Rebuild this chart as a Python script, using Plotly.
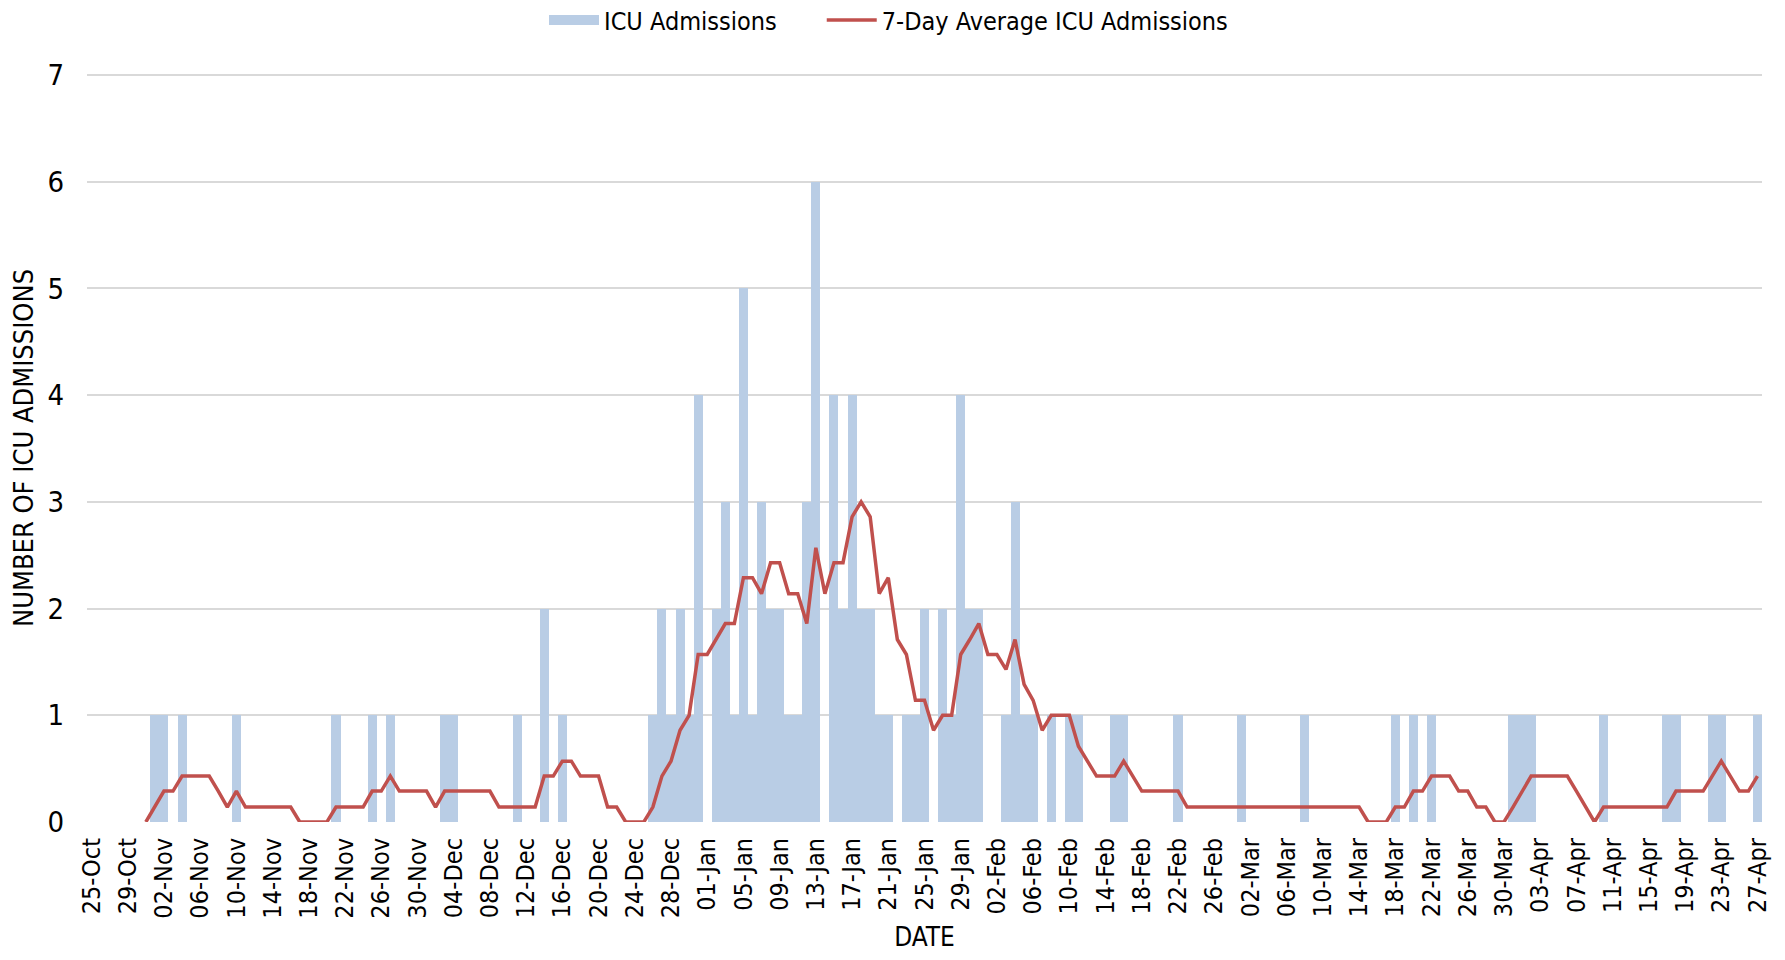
import pandas as pd
import plotly.graph_objects as go

# Categories: one per day, 25-Oct to 27-Apr
dates = pd.date_range("2020-10-25", "2021-04-27", freq="D")
date_labels = [d.strftime("%d-%b") for d in dates]
tick_labels = date_labels[::4]

icu_admissions = [
    0, 0, 0, 0, 0, 0, 0,
    1, 1, 0, 1, 0, 0, 0,
    0, 0, 1, 0, 0, 0, 0,
    0, 0, 0, 0, 0, 0, 1,
    0, 0, 0, 1, 0, 1, 0,
    0, 0, 0, 0, 1, 1, 0,
    0, 0, 0, 0, 0, 1, 0,
    0, 2, 0, 1, 0, 0, 0,
    0, 0, 0, 0, 0, 0, 1,
    2, 1, 2, 1, 4, 0, 2,
    3, 1, 5, 1, 3, 2, 2,
    1, 1, 3, 6, 0, 4, 2,
    4, 2, 2, 1, 1, 0, 1,
    1, 2, 0, 2, 1, 4, 2,
    2, 0, 0, 1, 3, 1, 1,
    0, 1, 0, 1, 1, 0, 0,
    0, 1, 1, 0, 0, 0, 0,
    0, 1, 0, 0, 0, 0, 0,
    0, 1, 0, 0, 0, 0, 0,
    0, 1, 0, 0, 0, 0, 0,
    0, 0, 0, 0, 1, 0, 1,
    0, 1, 0, 0, 0, 0, 0,
    0, 0, 0, 1, 1, 1, 0,
    0, 0, 0, 0, 0, 0, 1,
    0, 0, 0, 0, 0, 0, 1,
    1, 0, 0, 0, 1, 1, 0,
    0, 0, 1,
]

avg_7day = [
    None, None, None, None, None, None, 0,
    0.14, 0.29, 0.29, 0.43, 0.43, 0.43, 0.43,
    0.29, 0.14, 0.29, 0.14, 0.14, 0.14, 0.14,
    0.14, 0.14, 0, 0, 0, 0, 0.14,
    0.14, 0.14, 0.14, 0.29, 0.29, 0.43, 0.29,
    0.29, 0.29, 0.29, 0.14, 0.29, 0.29, 0.29,
    0.29, 0.29, 0.29, 0.14, 0.14, 0.14, 0.14,
    0.14, 0.43, 0.43, 0.57, 0.57, 0.43, 0.43,
    0.43, 0.14, 0.14, 0, 0, 0, 0.14,
    0.43, 0.57, 0.86, 1.0, 1.57, 1.57, 1.71,
    1.86, 1.86, 2.29, 2.29, 2.14, 2.43, 2.43,
    2.14, 2.14, 1.86, 2.57, 2.14, 2.43, 2.43,
    2.86, 3.0, 2.86, 2.14, 2.29, 1.71, 1.57,
    1.14, 1.14, 0.86, 1.0, 1.0, 1.57, 1.71,
    1.86, 1.57, 1.57, 1.43, 1.71, 1.29, 1.14,
    0.86, 1.0, 1.0, 1.0, 0.71, 0.57, 0.43,
    0.43, 0.43, 0.57, 0.43, 0.29, 0.29, 0.29,
    0.29, 0.29, 0.14, 0.14, 0.14, 0.14, 0.14,
    0.14, 0.14, 0.14, 0.14, 0.14, 0.14, 0.14,
    0.14, 0.14, 0.14, 0.14, 0.14, 0.14, 0.14,
    0.14, 0, 0, 0, 0.14, 0.14, 0.29,
    0.29, 0.43, 0.43, 0.43, 0.29, 0.29, 0.14,
    0.14, 0, 0, 0.14, 0.29, 0.43, 0.43,
    0.43, 0.43, 0.43, 0.29, 0.14, 0, 0.14,
    0.14, 0.14, 0.14, 0.14, 0.14, 0.14, 0.14,
    0.29, 0.29, 0.29, 0.29, 0.43, 0.57, 0.43,
    0.29, 0.29, 0.43,
]

FONT = "Liberation Sans Narrow, Arial Narrow, DejaVu Sans Condensed, Liberation Sans, Arial, sans-serif"
BAR_COLOR = "#B9CDE5"
LINE_COLOR = "#C0504D"

fig = go.Figure()
fig.add_trace(go.Bar(
    x=date_labels, y=icu_admissions, name="ICU Admissions",
    marker=dict(color=BAR_COLOR, line=dict(width=0)),
    showlegend=False,
))
# legend entry for the bars, drawn as a wide swatch
fig.add_trace(go.Scatter(
    x=[None], y=[None], name="ICU Admissions", mode="lines",
    line=dict(color=BAR_COLOR, width=20), showlegend=True, legend="legend",
))
fig.add_trace(go.Scatter(
    x=date_labels, y=avg_7day, name="7-Day Average ICU Admissions",
    mode="lines", line=dict(color=LINE_COLOR, width=3.5),
    connectgaps=False, legend="legend2",
))

legend_common = dict(
    orientation="h", xref="container", yref="container",
    xanchor="left", y=0.987, yanchor="middle",
    font=dict(size=25), itemwidth=50, bgcolor="rgba(0,0,0,0)",
)

fig.update_layout(
    width=1769, height=944,
    margin=dict(l=79, r=15, t=66, b=130),
    paper_bgcolor="white", plot_bgcolor="white",
    bargap=0,
    font=dict(family=FONT, color="black", size=26),
    legend=dict(x=0.303, **legend_common),
    legend2=dict(x=0.460, **legend_common),
    showlegend=True,
)
fig.update_xaxes(
    type="category", tickmode="array", tickvals=tick_labels, ticktext=tick_labels,
    tickangle=-90, tickfont=dict(size=25), showgrid=False, showline=False,
    ticks="", ticklabelstandoff=10, automargin=False,
    title=dict(text="DATE", font=dict(size=26), standoff=20),
    range=[-0.5, len(date_labels) - 0.5],
)
fig.update_yaxes(
    range=[0, 7.01], tickvals=[0, 1, 2, 3, 4, 5, 6, 7], tickfont=dict(size=29),
    gridcolor="#D9D9D9", gridwidth=2, zeroline=False, showline=False, ticks="",
    ticklabelstandoff=22, automargin=False,
    title=dict(text="NUMBER OF ICU ADMISSIONS", font=dict(size=27), standoff=6),
)

fig.write_html("out.html")
